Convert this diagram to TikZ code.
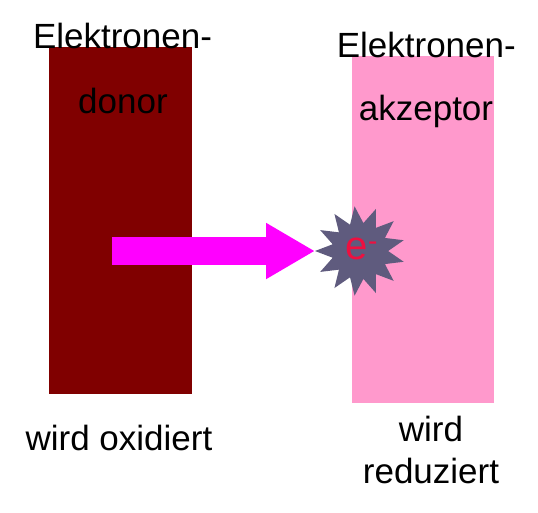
\documentclass[tikz,border=0pt]{standalone}
\usepackage{fontspec}
\setmainfont{Liberation Sans}
\usetikzlibrary{shapes.geometric,arrows.meta}
\definecolor{donorred}{HTML}{800000}
\definecolor{akzpink}{HTML}{FF99CC}
\definecolor{pfeil}{HTML}{FF00FF}
\definecolor{funke}{HTML}{5F5B7E}
\definecolor{elrot}{HTML}{EE1040}
\begin{document}
\begin{tikzpicture}[x=1pt,y=-1pt,
	box/.style={anchor=north west, inner sep=0pt, outer sep=0pt},
	label/.style={anchor=base, inner sep=0pt, font=\fontsize{35}{42}\selectfont, align=center},
	spark/.style={star, star points=13, star point ratio=1.6, minimum size=90pt, inner sep=0pt, outer sep=0pt, fill=funke, shape border rotate=90},
	transfer/.style={pfeil, line width=27.3pt, -{Triangle[length=49pt,width=52.7pt]}}]
					
					\useasboundingbox (0,0) rectangle (538,512);
					
					\node[box, fill=donorred, minimum width=142.4pt, minimum height=347pt] (donor) at (49.3,47) {};
					\node[box, fill=akzpink, minimum width=142.3pt, minimum height=346.7pt] (akzeptor) at (351.7,56) {};
					
					\node[label] (donortop) at (122.5,48) {Elektronen-};
					\node[label] (donorname) at (123,113) {donor};
					\node[label] (akztop) at (426.3,57) {Elektronen-};
					\node[label] (akzname) at (426,120) {akzeptor};
					\node[label] (oxid) at (119,450) {wird oxidiert};
					\node[label] (red) at (431,483) {wird\\reduziert};
					
					\node[spark] (elektron) at (360,251) {};
					\node[text=elrot, font=\fontsize{40}{46}\selectfont, inner sep=0pt] (eminus) at (362,249) {e\textsuperscript{-}};
					
					\coordinate (start) at (112,251);
					\draw[transfer] (start) -- (elektron.outer point 1); %
					
				\end{tikzpicture}
\end{document}
